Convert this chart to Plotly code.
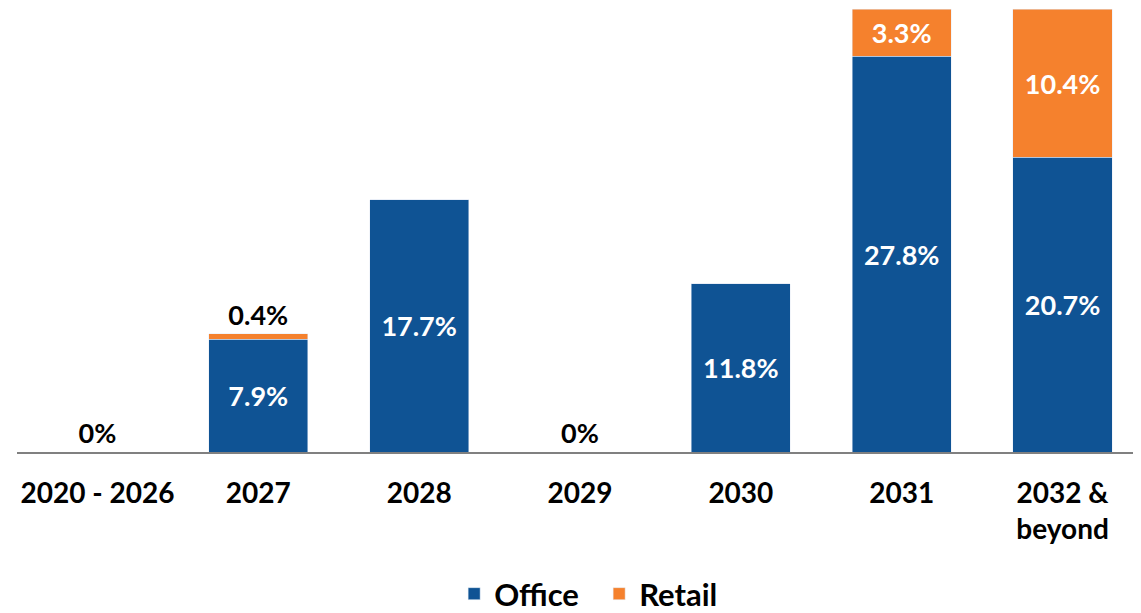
import plotly.graph_objects as go

categories = ["2020 - 2026", "2027", "2028", "2029", "2030", "2031", "2032 &<br>beyond"]
office = [0, 7.9, 17.7, 0, 11.8, 27.8, 20.7]
retail = [0, 0.4, 0, 0, 0, 3.3, 10.4]

office_color = "#0F5394"
retail_color = "#F5812D"
FONT = "Lato"

office_text = [f"{v:g}%" for v in office]
office_pos = ["outside" if v == 0 else "inside" for v in office]
retail_text = ["" if v == 0 else f"{v:g}%" for v in retail]
retail_pos = ["outside" if v < 1 else "inside" for v in retail]

LBL = 27

fig = go.Figure()
fig.add_trace(go.Bar(
    name="Office", x=categories, y=office, marker_color=office_color,
    text=office_text, textposition=office_pos,
    insidetextanchor="middle",
    insidetextfont=dict(color="white", size=LBL, family=FONT, weight="bold"),
    outsidetextfont=dict(color="black", size=LBL, family=FONT, weight="bold"),
    textangle=0, cliponaxis=False,
))
fig.add_trace(go.Bar(
    name="Retail", x=categories, y=retail, marker_color=retail_color,
    text=retail_text, textposition=retail_pos,
    insidetextanchor="middle",
    insidetextfont=dict(color="white", size=LBL, family=FONT, weight="bold"),
    outsidetextfont=dict(color="black", size=LBL, family=FONT, weight="bold"),
    textangle=0, cliponaxis=False,
))

fig.update_layout(
    barmode="stack",
    bargap=0.383,
    width=1141, height=613,
    margin=dict(l=9, r=6, t=0, b=169, autoexpand=False),
    plot_bgcolor="white", paper_bgcolor="white",
    font=dict(family=FONT, size=LBL, color="black", weight="bold"),
    legend=dict(orientation="h", x=0.517, xanchor="center",
                yref="container", y=0.0, yanchor="bottom",
                font=dict(size=31, family=FONT, color="black", weight="bold"),
                entrywidth=100, entrywidthmode="pixels",
                traceorder="normal"),
    xaxis=dict(showline=True, linecolor="#808080", linewidth=2, ticks="",
               tickfont=dict(size=28, family=FONT, color="black", weight="bold"),
               ticklabelstandoff=15, automargin=False,
               showgrid=False, fixedrange=True),
    yaxis=dict(visible=False, range=[0, 31.17], showgrid=False, zeroline=False,
               automargin=False),
)

fig.write_html("out.html")
